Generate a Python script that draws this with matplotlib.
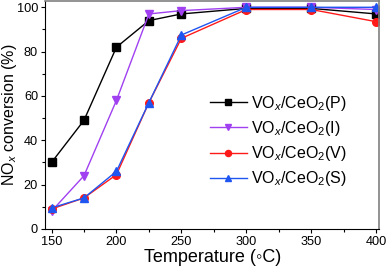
import matplotlib
matplotlib.use("Agg")
import matplotlib.pyplot as plt
from matplotlib.ticker import MultipleLocator

plt.rcParams["font.family"] = ["Liberation Sans", "DejaVu Sans"]
plt.rcParams["mathtext.fontset"] = "custom"
plt.rcParams["mathtext.rm"] = "Liberation Sans"
plt.rcParams["mathtext.it"] = "Liberation Sans:italic"

# 数据
temperature = [150, 175, 200, 225, 250, 300, 350, 400]
conv_P = [30, 49, 82, 94, 97, 99.5, 99.5, 97]
conv_I = [8, 24, 58, 97, 98.5, 100, 100, 99]
conv_V = [9, 14, 24.5, 57, 86, 99, 99, 93.5]
conv_S = [9.5, 14, 26, 57, 87.5, 100, 100, 100]

labels = [r"VO$_x$/CeO$_2$(P)", r"VO$_x$/CeO$_2$(I)",
          r"VO$_x$/CeO$_2$(V)", r"VO$_x$/CeO$_2$(S)"]
colors = ["black", "#A040F0", "#FF1A1A", "#1F55F0"]
markers = ["s", "v", "o", "^"]

fig = plt.figure(figsize=(3.88, 2.70), dpi=100)
ax = fig.add_axes([0.116, 0.152, 0.862, 0.844])

for y, lab, c, m in zip([conv_P, conv_I, conv_V, conv_S], labels, colors, markers):
    ax.plot(temperature, y, color=c, marker=m, markersize=5.5, linewidth=1.0, label=lab)

ax.set_xlim(145, 402.5)
ax.set_ylim(0, 102.8)
ax.xaxis.set_major_locator(MultipleLocator(50))
ax.xaxis.set_minor_locator(MultipleLocator(25))
ax.yaxis.set_major_locator(MultipleLocator(20))
ax.yaxis.set_minor_locator(MultipleLocator(10))
ax.tick_params(which="major", direction="out", length=3, width=0.8, labelsize=9.2, pad=2)
ax.tick_params(which="minor", direction="out", length=2, width=0.8)

for side in ["top", "right"]:
    ax.spines[side].set_color("#808080")
    ax.spines[side].set_linewidth(1.2)

ax.set_xlabel("Temperature (\u25e6C)", fontsize=13, labelpad=1)
ax.set_ylabel(r"NO$_x$ conversion (%)", fontsize=11.5)
ax.yaxis.set_label_coords(-0.077, 0.5)

ax.legend(loc="upper left", bbox_to_anchor=(210 / 388, 1 - 94 / 270),
          bbox_transform=fig.transFigure, frameon=False, fontsize=11.5,
          borderaxespad=0, borderpad=0, markerscale=0.8,
          handlelength=2.3, handletextpad=0.25, labelspacing=0.38)

fig.savefig("out.png", dpi=100)
